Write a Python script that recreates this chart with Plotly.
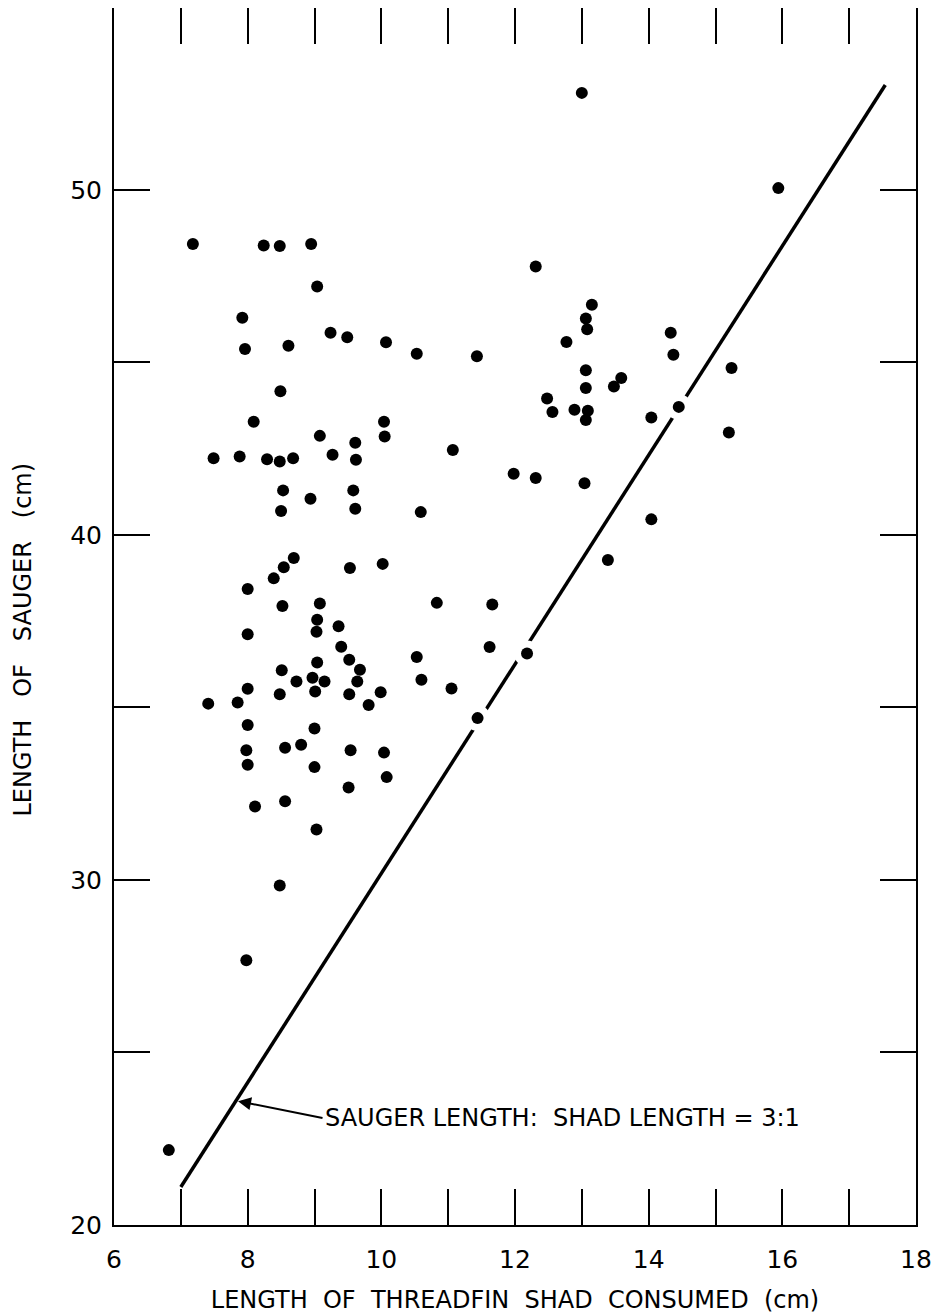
import plotly.graph_objects as go

# Length of threadfin shad consumed (cm)
shad_len = [
    7.18, 8.24, 8.48, 8.95, 9.04, 7.92, 7.96, 8.61, 9.24, 9.49,
    10.07, 10.53, 11.43, 8.49, 8.09, 10.04, 10.05, 9.08, 9.61, 7.49,
    7.88, 8.29, 8.48, 8.68, 9.27, 9.62, 11.07, 11.98, 8.53, 9.58,
    8.94, 8.50, 9.61, 10.59, 8.69, 8.54, 8.39, 8.00, 9.53, 10.02,
    8.52, 9.08, 10.83, 11.66, 9.04, 9.03, 9.36, 8.00, 9.40, 11.62,
    9.52, 10.53, 9.04, 8.51, 9.68, 8.97, 9.15, 8.73, 9.64, 10.60,
    11.05, 8.00, 9.01, 8.48, 9.52, 9.99, 7.41, 7.85, 9.81, 11.44,
    8.00, 9.00, 7.98, 8.56, 8.80, 9.54, 10.04, 8.00, 9.00, 10.08,
    9.51, 8.56, 8.11, 9.03, 8.48, 7.98, 6.82,
    13.00, 15.94, 12.31, 13.15, 13.06, 13.08, 12.77, 14.33, 14.37, 13.06,
    15.24, 13.59, 13.48, 13.06, 12.48, 12.56, 12.89, 13.09, 13.06, 14.04,
    14.45, 15.20, 12.31, 13.04, 14.04, 13.39, 12.18,
]
# Length of sauger (cm)
sauger_len = [
    48.43, 48.39, 48.37, 48.43, 47.20, 46.29, 45.39, 45.48, 45.86, 45.73,
    45.58, 45.25, 45.18, 44.16, 43.28, 43.28, 42.85, 42.87, 42.67, 42.22,
    42.27, 42.19, 42.13, 42.22, 42.32, 42.18, 42.46, 41.77, 41.29, 41.29,
    41.05, 40.69, 40.76, 40.66, 39.33, 39.06, 38.74, 38.43, 39.04, 39.16,
    37.94, 38.01, 38.03, 37.98, 37.54, 37.19, 37.35, 37.12, 36.76, 36.75,
    36.38, 36.46, 36.30, 36.08, 36.09, 35.86, 35.75, 35.75, 35.75, 35.80,
    35.55, 35.54, 35.46, 35.38, 35.38, 35.44, 35.11, 35.14, 35.07, 34.69,
    34.49, 34.39, 33.76, 33.83, 33.92, 33.76, 33.69, 33.34, 33.27, 32.98,
    32.68, 32.28, 32.13, 31.46, 29.84, 27.67, 22.17,
    52.81, 50.05, 47.78, 46.67, 46.27, 45.96, 45.59, 45.86, 45.22, 44.77,
    44.84, 44.55, 44.30, 44.26, 43.95, 43.56, 43.63, 43.60, 43.33, 43.40,
    43.71, 42.97, 41.65, 41.50, 40.45, 39.27, 36.56,
]

# 3:1 reference line (endpoints as drawn)
ratio_x = [7.0, 17.54]
ratio_y = [21.1, 53.04]

x_tickvals = list(range(6, 19))
x_ticktext = [str(v) if v % 2 == 0 else "" for v in x_tickvals]
y_tickvals = [20, 25, 30, 35, 40, 45, 50]
y_ticktext = ["20", "", "30", "", "40", "", "50"]

FONT = "DejaVu Sans"

fig = go.Figure()
fig.add_trace(go.Scatter(
    x=ratio_x, y=ratio_y, mode="lines",
    line=dict(color="black", width=3.5), hoverinfo="skip", showlegend=False))
# white halos break the ratio line where points sit on it (as in the drafted original)
fig.add_trace(go.Scatter(
    x=shad_len, y=sauger_len, mode="markers",
    marker=dict(color="white", size=26, line=dict(width=0)),
    hoverinfo="skip", showlegend=False))
fig.add_trace(go.Scatter(
    x=shad_len, y=sauger_len, mode="markers",
    marker=dict(color="black", size=12, line=dict(width=0)),
    showlegend=False))

fig.add_annotation(
    x=7.856, y=23.59, xref="x", yref="y",
    ax=9.12, ay=23.10, axref="x", ayref="y",
    text="SAUGER LENGTH:  SHAD LENGTH = 3:1",
    xanchor="left", yanchor="middle",
    showarrow=True, arrowhead=2, arrowsize=1.3, arrowwidth=2, arrowcolor="black",
    font=dict(family=FONT, size=24, color="black"),
)

# y-axis title (placed as a rotated label, slightly below the axis centre as in the original)
fig.add_annotation(
    x=-0.1135, y=0.481, xref="paper", yref="paper",
    text="LENGTH \u00a0\u00a0OF \u00a0\u00a0SAUGER \u00a0\u00a0(cm)",
    textangle=-90, showarrow=False, xanchor="center", yanchor="middle",
    font=dict(family=FONT, size=24, color="black"),
)

axis_common = dict(
    showline=True, linecolor="black", linewidth=2, mirror="ticks",
    ticks="inside", ticklen=36, tickwidth=1.5, tickcolor="black",
    showgrid=False, zeroline=False,
    tickfont=dict(family=FONT, size=25, color="black"),
)

fig.update_xaxes(
    range=[6, 18], tickmode="array", tickvals=x_tickvals, ticktext=x_ticktext,
    ticklabelstandoff=11,
    title=dict(text="LENGTH \u00a0OF \u00a0THREADFIN \u00a0SHAD \u00a0CONSUMED \u00a0(cm)",
               font=dict(family=FONT, size=24, color="black"), standoff=18),
    **axis_common)
fig.update_yaxes(
    range=[20, 55.27], tickmode="array", tickvals=y_tickvals, ticktext=y_ticktext,
    ticklabelstandoff=5,
    **axis_common)

# page body has an 8px margin, so the figure is sized to fit the 950x1316 window
fig.update_layout(
    width=942, height=1308, autosize=False,
    margin=dict(l=106, r=34, t=0, b=91, autoexpand=False),
    plot_bgcolor="white", paper_bgcolor="white",
    showlegend=False,
)

fig.write_html("out.html")
